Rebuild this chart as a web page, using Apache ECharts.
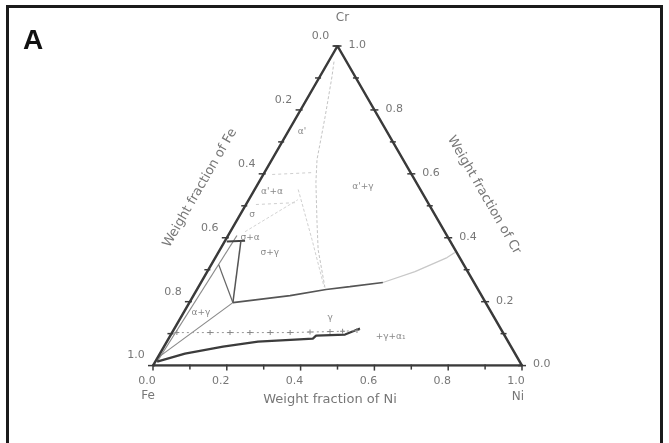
<!DOCTYPE html>
<html>
<head>
<meta charset="utf-8">
<script src="https://cdn.jsdelivr.net/npm/echarts@6/dist/echarts.min.js"></script>
<style>
  html, body { margin: 0; padding: 0; background: #fff; }
  #chart { width: 669px; height: 443px; }
</style>
</head>
<body>
<div id="chart"></div>
<script>
// Fe–Cr–Ni isothermal section. Every composition is [Ni, Cr] weight fraction; Fe = 1 - Ni - Cr.
const cornerFe = [0, 0];
const cornerNi = [1, 0];
const cornerCr = [0, 1];

const tickSteps = [0, 0.1, 0.2, 0.3, 0.4, 0.5, 0.6, 0.7, 0.8, 0.9, 1.0];
const labelSteps = [0, 0.2, 0.4, 0.6, 0.8, 1.0];

// solid phase boundaries
const sigmaTop = [[0.006, 0.388], [0.054, 0.391]];
const sigmaAlphaEdge = [[0.005, 0.012], [0.024, 0.407]];
const sigmaRight = [[0.044, 0.388], [0.118, 0.197]];
const sigmaLeft = [[0.020, 0.316], [0.118, 0.197]];
const gammaUpper = [[0.118, 0.197], [0.262, 0.219], [0.350, 0.238], [0.410, 0.247], [0.493, 0.260]];
const gammaLower = [[0.005, 0.0125], [0.068, 0.0375], [0.160, 0.0595], [0.247, 0.075], [0.344, 0.0814],
                    [0.391, 0.0845], [0.395, 0.0939], [0.472, 0.097], [0.503, 0.1158]];
const alphaGamma = [[0.001, 0.025], [0.118, 0.197]];

// faint / estimated boundaries
const gammaUpperExt = [[0.493, 0.260], [0.563, 0.294], [0.628, 0.338], [0.641, 0.354]];
const alphaPrimeLine = [[0.015, 0.951], [0.033, 0.904], [0.077, 0.779], [0.122, 0.645], [0.155, 0.573],
                        [0.221, 0.447], [0.266, 0.363], [0.344, 0.244]];
const alphaPrimeLine2 = [[0.118, 0.551], [0.234, 0.394], [0.340, 0.247]];
const faintDash1 = [[0.024, 0.598], [0.132, 0.604]];
const faintDash2 = [[0.027, 0.504], [0.135, 0.510]];
const faintSigma = [[0.040, 0.419], [0.133, 0.519]];

// measured alloy points
const alloyPoints = [[0.013, 0.1033], [0.103, 0.1033], [0.157, 0.1033], [0.211, 0.1033], [0.266, 0.1033],
                     [0.320, 0.1033], [0.373, 0.1050], [0.4265, 0.1064], [0.460, 0.1075], [0.498, 0.1095]];

// phase-field labels
const phaseNames = ["α'", "α'+α", "α'+γ", "σ", "σ+α", "σ+γ", "α+γ", "γ", "+γ+α₁"];
const phasePos = [[0.038, 0.732], [0.0505, 0.544], [0.289, 0.560], [0.032, 0.4725], [0.063, 0.4005],
                  [0.140, 0.3536], [0.047, 0.166], [0.405, 0.150], [0.598, 0.092]];

const H = Math.sqrt(3) / 2;
function proj(p) { return [p[0] + p[1] / 2, p[1] * H]; }

const chart = echarts.init(document.getElementById('chart'));

function boundary(pts, color, width, type) {
  return {
    type: 'line', data: pts.map(proj), showSymbol: false, silent: true,
    lineStyle: { color: color, width: width, type: type || 'solid' }, z: 3
  };
}

// tick marks on the three edges: side 0 = bottom (Ni), 1 = left (Fe), 2 = right (Cr)
const tickData = [];
tickSteps.forEach(function (v) {
  const major = Math.abs(Math.round(v * 10) % 2) === 0 ? 1 : 0;
  tickData.push(proj([v, 0]).concat([0, major]));
  tickData.push(proj([0, 1 - v]).concat([1, major]));
  tickData.push(proj([1 - v, v]).concat([2, major]));
});

const labelData = [];
labelSteps.forEach(function (v) {
  const t = v.toFixed(1);
  labelData.push({ value: proj([v, 0]), text: t, dx: -6, dy: 16, align: 'center' });
  labelData.push({ value: proj([0, 1 - v]), text: t, dx: -17, dy: -10, align: 'center' });
  labelData.push({ value: proj([1 - v, v]), text: t, dx: 11, dy: -1, align: 'left' });
});

const cornerLabels = [
  { value: proj(cornerFe), text: 'Fe', dx: -5, dy: 30, align: 'center' },
  { value: proj(cornerNi), text: 'Ni', dx: -4, dy: 31, align: 'center' },
  { value: proj(cornerCr), text: 'Cr', dx: 5, dy: -28, align: 'center' }
];

function textSeries(items, font, color) {
  return {
    type: 'custom', coordinateSystem: 'cartesian2d', silent: true, z: 6,
    data: items.map(function (d) { return d.value; }),
    renderItem: function (params, api) {
      const d = items[params.dataIndex];
      const pt = api.coord([api.value(0), api.value(1)]);
      return {
        type: 'text', x: pt[0] + d.dx, y: pt[1] + d.dy,
        style: { text: d.text, font: font, fill: color, align: d.align, verticalAlign: 'middle' }
      };
    }
  };
}

const phaseItems = phaseNames.map(function (n, i) {
  return { value: proj(phasePos[i]), text: n, dx: 0, dy: 0, align: 'center' };
});

chart.setOption({
  animation: false,
  backgroundColor: '#fff',
  grid: { left: 153, top: 46, width: 369, height: 319.6 },
  xAxis: { type: 'value', min: 0, max: 1, show: false },
  yAxis: { type: 'value', min: 0, max: H, show: false },
  graphic: [
    { type: 'rect', shape: { x: 7.5, y: 6.5, width: 654, height: 470 },
      style: { fill: 'none', stroke: '#1b1b1b', lineWidth: 3 } },
    { type: 'text', x: 23, y: 27,
      style: { text: 'A', font: 'bold 28px "Liberation Sans", Arial, sans-serif', fill: '#111' } },
    { type: 'text', x: 200, y: 188, rotation: Math.PI / 3,
      style: { text: 'Weight fraction of Fe', font: '13px "DejaVu Sans", sans-serif', fill: '#777',
               align: 'center', verticalAlign: 'middle' } },
    { type: 'text', x: 484, y: 195, rotation: -Math.PI / 3,
      style: { text: 'Weight fraction of Cr', font: '13px "DejaVu Sans", sans-serif', fill: '#777',
               align: 'center', verticalAlign: 'middle' } },
    { type: 'text', x: 330, y: 400,
      style: { text: 'Weight fraction of Ni', font: '13px "DejaVu Sans", sans-serif', fill: '#777',
               align: 'center', verticalAlign: 'middle' } }
  ],
  series: [
    // triangle frame
    {
      type: 'line', data: [cornerFe, cornerNi, cornerCr, cornerFe].map(proj), showSymbol: false, silent: true,
      lineStyle: { color: '#3a3a3a', width: 2.5 }, z: 5
    },
    boundary(alphaPrimeLine, '#c4c4c4', 1, [3, 2]),
    boundary(alphaPrimeLine2, '#d0d0d0', 1, [3, 2]),
    boundary(faintDash1, '#cfcfcf', 1, [3, 3]),
    boundary(faintDash2, '#cfcfcf', 1, [3, 3]),
    boundary(faintSigma, '#d4d4d4', 1, [3, 2]),
    boundary(gammaUpperExt, '#c8c8c8', 1.3),
    boundary(sigmaAlphaEdge, '#8a8a8a', 1.2),
    boundary(alphaGamma, '#8a8a8a', 1.2),
    boundary(sigmaTop, '#444', 2),
    boundary(sigmaRight, '#555', 1.5),
    boundary(sigmaLeft, '#666', 1.3),
    boundary(gammaUpper, '#555', 1.6),
    boundary(gammaLower, '#3c3c3c', 2.2),
    {
      type: 'line', data: alloyPoints.map(proj), silent: true, z: 4,
      symbol: 'path://M4,0H6V4H10V6H6V10H4V6H0V4H4Z', symbolSize: 5,
      itemStyle: { color: '#888' },
      lineStyle: { color: '#999', width: 1, type: [2, 3] }
    },
    {
      type: 'custom', coordinateSystem: 'cartesian2d', silent: true, z: 6,
      data: tickData,
      renderItem: function (params, api) {
        const pt = api.coord([api.value(0), api.value(1)]);
        const side = api.value(2);
        const len = api.value(3) ? 4 : 3;
        let shape;
        if (side === 0) shape = { x1: pt[0], y1: pt[1] - 1, x2: pt[0], y2: pt[1] + len + 1 };
        else if (side === 1) shape = { x1: pt[0] - len - 1, y1: pt[1], x2: pt[0] + 2, y2: pt[1] };
        else shape = { x1: pt[0] - len, y1: pt[1], x2: pt[0] + len, y2: pt[1] };
        return { type: 'line', shape: shape, style: { stroke: '#3a3a3a', lineWidth: 1.5 } };
      }
    },
    textSeries(labelData, '11px "DejaVu Sans", sans-serif', '#777'),
    textSeries(cornerLabels, '12px "DejaVu Sans", sans-serif', '#777'),
    textSeries(phaseItems, '9px "DejaVu Sans", sans-serif', '#888')
  ]
});
</script>
</body>
</html>
